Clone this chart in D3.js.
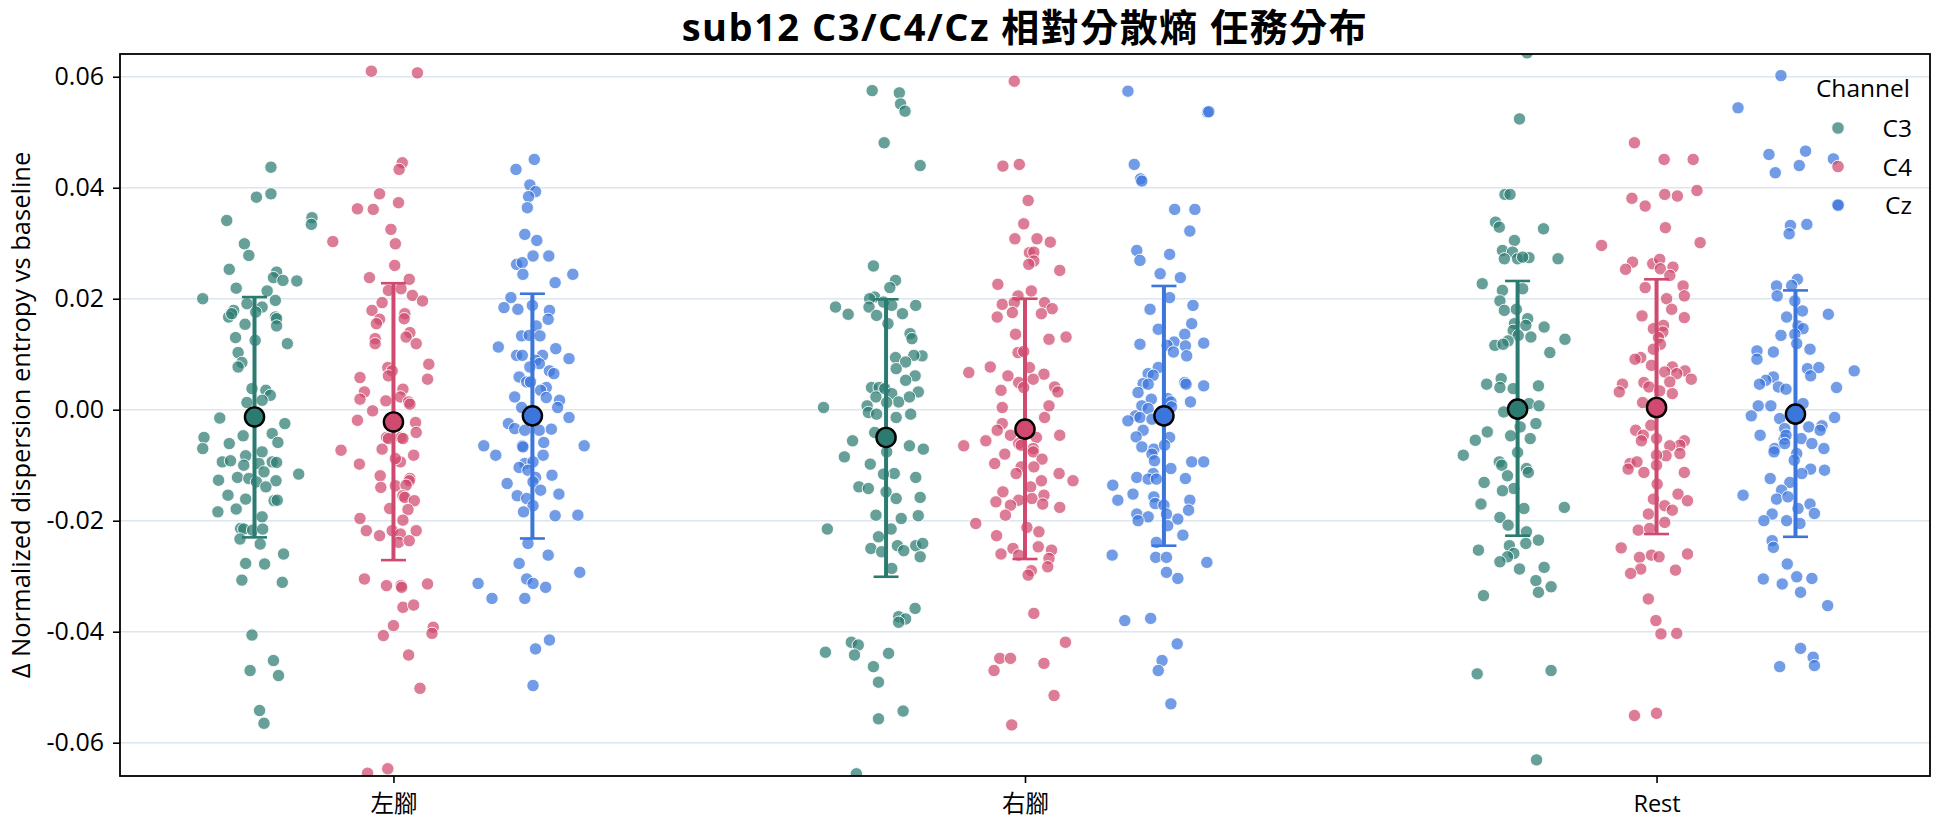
<!DOCTYPE html>
<html><head><meta charset="utf-8">
<script src="https://cdn.jsdelivr.net/npm/d3@7"></script>
<style>body{margin:0;background:#fff}svg{display:block}</style>
</head><body>
<svg id="chart" width="1944" height="827"></svg>
<script>
// ---------- data ----------
const categories = ["左腳", "右腳", "Rest"];
const channels = ["C3", "C4", "Cz"];
const yTicks = [-0.06, -0.04, -0.02, 0, 0.02, 0.04, 0.06];
const titleText = "sub12 C3/C4/Cz 相對分散熵 任務分布";
const yLabel = "Δ Normalized dispersion entropy vs baseline";

// mean and mean±SD per category (左腳, 右腳, Rest)
const meanC3 = [-0.0013, -0.0050, 0.0001];
const meanC4 = [-0.0022, -0.0035, 0.0004];
const meanCz = [-0.0011, -0.0011, -0.0008];
const upperC3 = [0.0203, 0.0199, 0.0232];
const upperC4 = [0.0228, 0.0200, 0.0235];
const upperCz = [0.0209, 0.0223, 0.0215];
const lowerC3 = [-0.0230, -0.0301, -0.0227];
const lowerC4 = [-0.0271, -0.0269, -0.0224];
const lowerCz = [-0.0232, -0.0245, -0.0229];

// trials: [value, strip jitter (category units)]
const leftC3 = [[0.0437,0.026],[0.0383,0.003],[0.0389,0.026],[0.0341,-0.044],[0.0346,0.091],[0.0334,0.090],[0.0299,-0.016],[0.0278,-0.009],[0.0253,-0.040],[0.0248,0.035],[0.0238,0.030],[0.0233,0.045],[0.0232,0.067],[0.0219,-0.029],[0.0214,0.020],[0.0200,-0.082],[0.0191,-0.012],[0.0197,0.033],[0.0185,0.012],[0.0176,0.002],[0.0179,-0.033],[0.0167,-0.041],[0.0173,-0.036],[0.0167,0.033],[0.0164,0.035],[0.0154,-0.015],[0.0151,0.035],[0.0130,-0.030],[0.0125,0.001],[0.0119,0.052],[0.0103,-0.026],[0.0085,-0.020],[0.0077,-0.026],[0.0038,-0.004],[0.0035,0.018],[0.0026,0.025],[0.0017,0.012],[0.0013,-0.012],[-0.0015,-0.055],[-0.0025,0.048],[-0.0050,-0.080],[-0.0047,-0.018],[-0.0043,0.028],[-0.0061,-0.040],[-0.0059,0.037],[-0.0070,-0.082],[-0.0076,0.012],[-0.0083,-0.014],[-0.0094,-0.051],[-0.0092,-0.038],[-0.0100,-0.017],[-0.0094,0.028],[-0.0095,0.035],[-0.0097,0.007],[-0.0112,0.015],[-0.0122,-0.027],[-0.0127,-0.057],[-0.0124,-0.009],[-0.0130,0.003],[-0.0128,0.034],[-0.0116,0.070],[-0.0139,0.018],[-0.0154,-0.042],[-0.0161,-0.014],[-0.0164,0.031],[-0.0163,0.036],[-0.0179,-0.029],[-0.0184,-0.058],[-0.0193,0.012],[-0.0214,-0.022],[-0.0215,-0.017],[-0.0217,-0.003],[-0.0215,0.013],[-0.0233,-0.023],[-0.0242,0.009],[-0.0260,0.046],[-0.0277,-0.014],[-0.0278,0.016],[-0.0307,-0.020],[-0.0311,0.044],[-0.0406,-0.004],[-0.0452,0.030],[-0.0470,-0.007],[-0.0479,0.038],[-0.0542,0.008],[-0.0565,0.015]];
const leftC4 = [[0.0610,-0.035],[0.0607,0.038],[0.0445,0.014],[0.0433,0.009],[0.0389,-0.022],[0.0362,-0.057],[0.0361,-0.032],[0.0373,0.008],[0.0325,-0.004],[0.0299,0.003],[0.0303,-0.096],[0.0260,0.002],[0.0238,-0.038],[0.0235,0.025],[0.0215,-0.008],[0.0218,0.012],[0.0206,0.030],[0.0196,0.046],[0.0193,-0.018],[0.0179,-0.034],[0.0163,-0.022],[0.0155,-0.027],[0.0173,0.018],[0.0164,0.017],[0.0139,0.026],[0.0131,0.020],[0.0128,-0.029],[0.0119,-0.029],[0.0119,0.036],[0.0082,0.056],[0.0055,0.054],[0.0076,-0.009],[0.0070,-0.002],[0.0061,-0.008],[0.0058,-0.053],[0.0032,-0.046],[0.0019,-0.053],[0.0037,0.015],[0.0023,0.011],[0.0014,0.024],[0.0010,0.026],[0.0016,-0.012],[-0.0002,-0.033],[-0.0019,-0.057],[-0.0023,0.035],[-0.0041,0.036],[-0.0050,-0.011],[-0.0050,0.012],[-0.0073,-0.083],[-0.0071,-0.018],[-0.0052,-0.008],[-0.0052,0.015],[-0.0082,0.032],[-0.0098,-0.054],[-0.0094,0.011],[-0.0088,0.003],[-0.0119,-0.021],[-0.0124,0.026],[-0.0128,0.025],[-0.0140,-0.020],[-0.0137,0.003],[-0.0136,0.020],[-0.0155,0.015],[-0.0158,0.018],[-0.0164,0.033],[-0.0178,-0.006],[-0.0180,0.023],[-0.0196,-0.053],[-0.0199,0.015],[-0.0218,-0.043],[-0.0227,-0.022],[-0.0218,-0.002],[-0.0224,0.011],[-0.0218,0.036],[-0.0239,0.008],[-0.0236,0.025],[-0.0305,-0.046],[-0.0317,-0.011],[-0.0317,0.012],[-0.0320,0.013],[-0.0314,0.054],[-0.0356,0.015],[-0.0352,0.032],[-0.0389,0.000],[-0.0407,-0.016],[-0.0392,0.063],[-0.0403,0.061],[-0.0442,0.024],[-0.0502,0.042],[-0.0655,-0.041],[-0.0647,-0.009]];
const leftCz = [[0.0451,0.003],[0.0433,-0.026],[0.0405,-0.004],[0.0393,0.005],[0.0384,-0.006],[0.0364,-0.008],[0.0316,-0.012],[0.0305,0.007],[0.0277,0.001],[0.0277,0.026],[0.0262,-0.025],[0.0265,-0.016],[0.0244,-0.015],[0.0244,0.064],[0.0229,0.036],[0.0202,-0.034],[0.0184,-0.045],[0.0181,-0.023],[0.0188,0.000],[0.0179,0.027],[0.0163,0.025],[0.0151,0.006],[0.0133,-0.017],[0.0134,-0.005],[0.0133,0.012],[0.0113,-0.054],[0.0110,0.037],[0.0098,-0.025],[0.0098,-0.016],[0.0098,0.016],[0.0092,0.058],[0.0089,0.005],[0.0083,0.011],[0.0077,-0.004],[0.0070,0.027],[0.0065,0.034],[0.0059,-0.021],[0.0050,-0.009],[0.0050,-0.003],[0.0040,0.022],[0.0035,0.013],[0.0023,-0.028],[0.0022,0.022],[0.0017,0.043],[0.0004,0.040],[0.0004,-0.017],[-0.0014,0.058],[-0.0025,-0.038],[-0.0034,-0.028],[-0.0037,-0.012],[-0.0037,0.011],[-0.0035,0.030],[-0.0059,0.018],[-0.0065,-0.077],[-0.0065,-0.016],[-0.0065,0.082],[-0.0082,-0.058],[-0.0067,-0.015],[-0.0082,0.017],[-0.0097,-0.012],[-0.0094,0.001],[-0.0104,-0.021],[-0.0109,-0.007],[-0.0118,0.031],[-0.0122,0.005],[-0.0130,0.001],[-0.0133,-0.040],[-0.0145,0.013],[-0.0152,0.042],[-0.0155,-0.024],[-0.0160,-0.009],[-0.0173,0.001],[-0.0184,-0.014],[-0.0191,0.036],[-0.0190,0.072],[-0.0241,-0.007],[-0.0262,0.025],[-0.0277,-0.021],[-0.0293,0.075],[-0.0313,-0.086],[-0.0305,-0.009],[-0.0313,0.001],[-0.0320,0.021],[-0.0340,-0.064],[-0.0340,-0.012],[-0.0415,0.027],[-0.0431,0.005],[-0.0497,0.001]];
const rightC3 = [[0.0575,-0.022],[0.0571,0.021],[0.0551,0.023],[0.0538,0.030],[0.0481,-0.003],[0.0440,0.054],[0.0259,-0.020],[0.0233,0.015],[0.0220,0.006],[0.0203,-0.018],[0.0200,-0.026],[0.0194,-0.004],[0.0188,0.009],[0.0185,-0.027],[0.0185,-0.080],[0.0172,-0.060],[0.0170,-0.015],[0.0173,0.026],[0.0188,0.047],[0.0155,0.003],[0.0137,0.038],[0.0128,0.041],[0.0097,0.057],[0.0098,0.044],[0.0094,0.015],[0.0086,0.031],[0.0074,0.016],[0.0061,0.046],[0.0053,0.031],[0.0040,-0.023],[0.0040,-0.011],[0.0038,-0.002],[0.0032,0.051],[0.0023,-0.016],[0.0029,0.009],[0.0014,0.020],[0.0023,0.037],[0.0004,-0.099],[0.0007,-0.030],[0.0013,0.001],[-0.0005,-0.028],[-0.0008,-0.015],[-0.0008,0.039],[-0.0014,0.016],[-0.0041,-0.018],[-0.0056,-0.053],[-0.0065,0.037],[-0.0071,0.059],[-0.0085,-0.066],[-0.0076,0.001],[-0.0098,-0.025],[-0.0115,0.013],[-0.0116,-0.004],[-0.0122,0.047],[-0.0139,-0.043],[-0.0142,-0.028],[-0.0148,0.000],[-0.0160,0.016],[-0.0158,0.054],[-0.0190,-0.016],[-0.0196,0.024],[-0.0191,0.051],[-0.0215,-0.093],[-0.0215,0.008],[-0.0229,-0.012],[-0.0250,-0.024],[-0.0245,0.018],[-0.0254,0.028],[-0.0256,-0.007],[-0.0245,0.047],[-0.0241,0.058],[-0.0265,0.054],[-0.0286,0.009],[-0.0358,0.046],[-0.0373,0.020],[-0.0377,0.031],[-0.0383,0.020],[-0.0419,-0.055],[-0.0424,-0.044],[-0.0437,-0.096],[-0.0442,-0.050],[-0.0439,0.004],[-0.0463,-0.020],[-0.0491,-0.012],[-0.0543,0.027],[-0.0557,-0.012],[-0.0656,-0.047]];
const rightC4 = [[0.0592,-0.017],[0.0439,-0.035],[0.0442,-0.009],[0.0377,0.005],[0.0335,-0.002],[0.0308,-0.016],[0.0308,0.019],[0.0302,0.040],[0.0283,0.007],[0.0284,0.014],[0.0268,0.014],[0.0262,0.006],[0.0251,0.055],[0.0226,-0.043],[0.0214,0.010],[0.0205,-0.011],[0.0190,-0.036],[0.0193,-0.017],[0.0193,0.031],[0.0182,0.043],[0.0175,-0.020],[0.0173,0.026],[0.0167,-0.044],[0.0136,-0.015],[0.0127,0.038],[0.0131,0.065],[0.0103,-0.011],[0.0105,-0.002],[0.0077,-0.055],[0.0067,-0.089],[0.0076,0.007],[0.0061,-0.027],[0.0064,0.030],[0.0055,0.013],[0.0049,-0.010],[0.0040,-0.002],[0.0041,0.047],[0.0032,0.052],[0.0035,-0.038],[0.0004,-0.036],[0.0007,0.038],[-0.0014,0.031],[-0.0025,-0.036],[-0.0037,-0.044],[-0.0046,-0.023],[-0.0046,0.055],[-0.0050,0.018],[-0.0056,-0.062],[-0.0065,-0.097],[-0.0061,-0.010],[-0.0070,0.013],[-0.0064,-0.006],[-0.0080,-0.032],[-0.0076,0.013],[-0.0089,0.027],[-0.0097,-0.048],[-0.0103,-0.006],[-0.0103,0.014],[-0.0115,-0.014],[-0.0115,0.054],[-0.0128,0.076],[-0.0128,0.026],[-0.0139,0.009],[-0.0148,-0.035],[-0.0154,0.030],[-0.0160,0.011],[-0.0163,-0.010],[-0.0166,-0.046],[-0.0172,-0.023],[-0.0170,0.028],[-0.0176,0.055],[-0.0190,-0.031],[-0.0205,-0.078],[-0.0212,0.003],[-0.0220,0.022],[-0.0227,-0.045],[-0.0250,-0.019],[-0.0247,0.021],[-0.0253,0.042],[-0.0260,-0.038],[-0.0262,-0.010],[-0.0268,0.038],[-0.0283,0.036],[-0.0290,0.010],[-0.0298,0.005],[-0.0367,0.014],[-0.0419,0.064],[-0.0448,-0.040],[-0.0448,-0.023],[-0.0457,0.030],[-0.0470,-0.049],[-0.0515,0.046],[-0.0568,-0.021]];
const rightCz = [[0.0574,-0.057],[0.0536,0.069],[0.0537,0.071],[0.0442,-0.047],[0.0416,-0.037],[0.0412,-0.035],[0.0361,0.017],[0.0361,0.049],[0.0322,0.041],[0.0287,-0.043],[0.0269,-0.038],[0.0280,0.009],[0.0245,-0.006],[0.0238,0.026],[0.0202,0.009],[0.0181,-0.022],[0.0188,0.046],[0.0155,0.044],[0.0145,-0.009],[0.0136,0.033],[0.0118,-0.038],[0.0120,0.063],[0.0122,0.016],[0.0115,0.034],[0.0116,0.005],[0.0104,0.015],[0.0097,0.036],[0.0076,-0.009],[0.0065,-0.025],[0.0062,-0.017],[0.0047,-0.033],[0.0046,-0.025],[0.0049,0.033],[0.0046,0.035],[0.0043,0.063],[0.0031,-0.041],[0.0019,-0.020],[0.0020,0.006],[0.0014,0.011],[0.0014,0.042],[0.0007,-0.035],[0.0002,-0.025],[0.0005,0.012],[-0.0011,-0.045],[-0.0020,-0.057],[-0.0014,-0.038],[-0.0017,-0.019],[-0.0037,-0.033],[-0.0049,-0.044],[-0.0050,0.009],[-0.0067,-0.035],[-0.0071,-0.016],[-0.0064,0.001],[-0.0080,-0.019],[-0.0092,-0.015],[-0.0094,0.044],[-0.0094,0.063],[-0.0106,0.011],[-0.0115,-0.017],[-0.0122,-0.043],[-0.0125,-0.025],[-0.0125,-0.012],[-0.0124,0.034],[-0.0136,-0.081],[-0.0152,-0.049],[-0.0157,-0.016],[-0.0163,-0.073],[-0.0163,0.041],[-0.0169,-0.014],[-0.0172,0.000],[-0.0181,0.039],[-0.0188,-0.043],[-0.0193,-0.025],[-0.0188,0.004],[-0.0197,0.022],[-0.0200,-0.041],[-0.0209,0.006],[-0.0226,0.030],[-0.0239,-0.012],[-0.0262,-0.082],[-0.0266,-0.013],[-0.0266,0.004],[-0.0275,0.068],[-0.0293,0.004],[-0.0304,0.022],[-0.0380,-0.062],[-0.0376,-0.021],[-0.0422,0.021],[-0.0452,-0.003],[-0.0470,-0.009],[-0.0530,0.011]];
const restC3 = [[0.0643,0.015],[0.0524,0.003],[0.0388,-0.020],[0.0388,-0.012],[0.0338,-0.035],[0.0329,-0.029],[0.0326,0.041],[0.0305,-0.005],[0.0287,-0.024],[0.0284,-0.008],[0.0272,-0.021],[0.0272,0.000],[0.0274,0.018],[0.0275,0.008],[0.0272,0.064],[0.0227,-0.056],[0.0215,-0.024],[0.0218,0.008],[0.0196,-0.028],[0.0179,-0.021],[0.0181,-0.002],[0.0164,0.016],[0.0155,-0.005],[0.0152,0.013],[0.0149,0.042],[0.0143,-0.007],[0.0134,0.001],[0.0131,0.021],[0.0124,-0.015],[0.0127,0.075],[0.0116,-0.036],[0.0118,-0.023],[0.0103,0.051],[0.0056,-0.026],[0.0046,-0.049],[0.0040,-0.028],[0.0038,-0.007],[0.0043,0.033],[0.0011,0.018],[0.0007,0.034],[-0.0004,-0.022],[-0.0025,0.029],[-0.0031,0.004],[-0.0040,-0.048],[-0.0055,-0.067],[-0.0047,-0.011],[-0.0052,0.020],[-0.0082,-0.086],[-0.0077,0.000],[-0.0094,-0.029],[-0.0100,-0.025],[-0.0106,0.014],[-0.0113,0.017],[-0.0119,-0.016],[-0.0131,-0.053],[-0.0142,-0.006],[-0.0146,-0.024],[-0.0170,-0.058],[-0.0178,0.010],[-0.0176,0.074],[-0.0194,-0.028],[-0.0208,-0.015],[-0.0220,0.014],[-0.0235,0.033],[-0.0245,-0.013],[-0.0241,0.013],[-0.0253,-0.062],[-0.0259,-0.006],[-0.0265,-0.016],[-0.0274,-0.028],[-0.0287,0.003],[-0.0284,0.042],[-0.0308,0.029],[-0.0319,0.053],[-0.0329,0.033],[-0.0335,-0.054],[-0.0476,-0.064],[-0.0470,0.053],[-0.0631,0.030]];
const restC4 = [[0.0481,-0.035],[0.0451,0.012],[0.0451,0.058],[0.0395,0.064],[0.0388,0.013],[0.0385,0.033],[0.0381,-0.039],[0.0367,-0.018],[0.0328,0.014],[0.0301,0.069],[0.0296,-0.087],[0.0266,-0.038],[0.0253,-0.049],[0.0263,-0.006],[0.0271,0.005],[0.0254,0.006],[0.0257,0.026],[0.0242,0.021],[0.0220,-0.018],[0.0223,0.042],[0.0205,0.044],[0.0200,0.016],[0.0181,0.024],[0.0169,-0.023],[0.0166,0.044],[0.0152,0.011],[0.0146,-0.005],[0.0140,0.010],[0.0130,0.003],[0.0118,0.006],[0.0109,-0.005],[0.0094,-0.025],[0.0091,-0.034],[0.0080,-0.008],[0.0077,0.025],[0.0070,0.045],[0.0068,0.013],[0.0065,0.032],[0.0055,0.055],[0.0050,0.021],[0.0049,-0.020],[0.0046,-0.054],[0.0041,-0.012],[0.0032,-0.059],[0.0034,0.005],[0.0029,0.025],[0.0013,-0.022],[-0.0028,-0.009],[-0.0037,-0.033],[-0.0046,-0.021],[-0.0052,0.000],[-0.0056,0.044],[-0.0064,0.037],[-0.0065,0.021],[-0.0056,-0.024],[-0.0079,0.037],[-0.0083,0.015],[-0.0082,0.000],[-0.0097,-0.042],[-0.0094,-0.031],[-0.0107,-0.045],[-0.0100,0.000],[-0.0113,-0.020],[-0.0113,0.044],[-0.0134,0.001],[-0.0152,0.034],[-0.0164,0.049],[-0.0161,-0.005],[-0.0173,0.013],[-0.0181,0.025],[-0.0188,-0.013],[-0.0203,0.013],[-0.0217,-0.029],[-0.0214,-0.011],[-0.0249,-0.056],[-0.0266,-0.027],[-0.0262,-0.008],[-0.0265,0.004],[-0.0260,0.049],[-0.0287,-0.025],[-0.0295,-0.041],[-0.0289,0.030],[-0.0341,-0.013],[-0.0380,-0.001],[-0.0404,0.007],[-0.0403,0.032],[-0.0551,-0.035],[-0.0547,0.000]];
const restCz = [[0.0602,-0.023],[0.0544,-0.091],[0.0460,-0.042],[0.0466,0.016],[0.0440,0.006],[0.0427,-0.032],[0.0452,0.060],[0.0368,0.068],[0.0332,-0.008],[0.0334,0.018],[0.0317,-0.010],[0.0235,0.003],[0.0223,-0.030],[0.0224,-0.006],[0.0205,-0.029],[0.0196,-0.001],[0.0178,0.011],[0.0172,0.052],[0.0167,-0.014],[0.0151,0.004],[0.0146,0.012],[0.0134,-0.023],[0.0136,-0.001],[0.0119,0.002],[0.0106,-0.061],[0.0104,-0.035],[0.0109,0.023],[0.0091,-0.061],[0.0074,0.019],[0.0076,0.037],[0.0061,0.024],[0.0070,0.093],[0.0059,-0.035],[0.0053,-0.047],[0.0046,-0.057],[0.0041,-0.027],[0.0037,-0.015],[0.0040,0.065],[0.0011,0.012],[0.0007,-0.059],[0.0007,-0.039],[-0.0011,-0.070],[-0.0016,-0.025],[-0.0014,0.062],[-0.0031,0.021],[-0.0029,0.042],[-0.0037,0.039],[-0.0034,-0.017],[-0.0046,-0.056],[-0.0053,-0.018],[-0.0052,0.009],[-0.0061,0.026],[-0.0070,-0.033],[-0.0070,0.045],[-0.0046,-0.015],[-0.0061,-0.017],[-0.0076,-0.034],[-0.0079,0.002],[-0.0091,-0.002],[-0.0107,0.024],[-0.0109,0.046],[-0.0115,0.010],[-0.0124,-0.040],[-0.0131,-0.009],[-0.0154,-0.083],[-0.0145,-0.022],[-0.0161,-0.030],[-0.0157,-0.012],[-0.0170,0.023],[-0.0178,0.004],[-0.0187,0.030],[-0.0188,-0.037],[-0.0200,-0.050],[-0.0200,-0.014],[-0.0205,0.007],[-0.0236,-0.037],[-0.0248,-0.035],[-0.0278,-0.013],[-0.0305,-0.051],[-0.0314,-0.021],[-0.0301,0.002],[-0.0304,0.026],[-0.0329,0.008],[-0.0353,0.051],[-0.0430,0.008],[-0.0446,0.028],[-0.0463,-0.025],[-0.0461,0.030]];

const colors = {C3: "#2b7b71", C4: "#cf4a6e", Cz: "#3b76dc"};

// ---------- assemble ----------
const trials = {
  "左腳": {C3: leftC3, C4: leftC4, Cz: leftCz},
  "右腳": {C3: rightC3, C4: rightC4, Cz: rightCz},
  "Rest": {C3: restC3, C4: restC4, Cz: restCz}
};
const stats = {
  C3: {mean: meanC3, lo: lowerC3, hi: upperC3},
  C4: {mean: meanC4, lo: lowerC4, hi: upperC4},
  Cz: {mean: meanCz, lo: lowerCz, hi: upperCz}
};

const svg = d3.select("#chart");
const P = {l: 120, r: 1930, t: 54, b: 776};
const FONT = "'Open Sans','Noto Sans CJK TC',sans-serif";

const catPos = d3.scalePoint().domain(categories).range([0, 2]);
const x = d3.scaleLinear().domain([-0.433, 2.433]).range([P.l, P.r]);
const dodge = d3.scalePoint().domain(channels).range([-0.22, 0.22]);
const y = d3.scaleLinear().domain([-0.0660, 0.0641]).range([P.b, P.t]);

svg.append("rect").attr("width", 1944).attr("height", 827).attr("fill", "#fff");

svg.append("defs").append("clipPath").attr("id", "plotclip")
  .append("rect").attr("x", P.l).attr("y", P.t).attr("width", P.r - P.l).attr("height", P.b - P.t);

// grid
svg.append("g").selectAll("line").data(yTicks).join("line")
  .attr("x1", P.l).attr("x2", P.r)
  .attr("y1", d => y(d)).attr("y2", d => y(d))
  .attr("stroke", "#dde5ee").attr("stroke-width", 1.6);

// points
const pts = [];
categories.forEach(cat => channels.forEach(ch => {
  trials[cat][ch].forEach(([v, j]) => pts.push({cat, ch, v, j}));
}));
svg.append("g").attr("clip-path", "url(#plotclip)")
  .selectAll("circle").data(pts).join("circle")
  .attr("cx", d => x(catPos(d.cat) + dodge(d.ch) + d.j))
  .attr("cy", d => y(d.v))
  .attr("r", 6.2)
  .attr("fill", d => colors[d.ch]).attr("fill-opacity", 0.72)
  .attr("stroke", "#fff").attr("stroke-width", 0.9);

// error bars and means
const summ = [];
categories.forEach((cat, i) => channels.forEach(ch => {
  summ.push({cat, ch, m: stats[ch].mean[i], lo: stats[ch].lo[i], hi: stats[ch].hi[i]});
}));
const eg = svg.append("g");
summ.forEach(d => {
  const cx = x(catPos(d.cat) + dodge(d.ch));
  const g = eg.append("g");
  g.append("line").attr("x1", cx).attr("x2", cx).attr("y1", y(d.lo)).attr("y2", y(d.hi))
    .attr("stroke", colors[d.ch]).attr("stroke-width", 4);
  [d.lo, d.hi].forEach(v => g.append("line")
    .attr("x1", cx - 12.5).attr("x2", cx + 12.5).attr("y1", y(v)).attr("y2", y(v))
    .attr("stroke", colors[d.ch]).attr("stroke-width", 2.6));
  g.append("circle").attr("cx", cx).attr("cy", y(d.m)).attr("r", 9.6)
    .attr("fill", colors[d.ch]).attr("stroke", "#000").attr("stroke-width", 2.4);
});

// frame
svg.append("rect").attr("x", P.l).attr("y", P.t).attr("width", P.r - P.l).attr("height", P.b - P.t)
  .attr("fill", "none").attr("stroke", "#000").attr("stroke-width", 1.8);

// axes
const yAxis = svg.append("g").attr("transform", `translate(${P.l},0)`)
  .call(d3.axisLeft(y).tickValues(yTicks).tickSize(7).tickPadding(9).tickFormat(d => d.toFixed(2)));
const xAxis = svg.append("g").attr("transform", `translate(0,${P.b})`)
  .call(d3.axisBottom(x).tickValues(categories.map(c => catPos(c))).tickSize(7).tickPadding(12)
    .tickFormat(i => categories[Math.round(i)]));
[yAxis, xAxis].forEach(a => {
  a.select(".domain").remove();
  a.selectAll(".tick line").attr("stroke", "#000").attr("stroke-width", 1.6);
  a.selectAll(".tick text").attr("fill", "#000").style("font-family", FONT);
});
yAxis.selectAll(".tick text").style("font-size", "25px");
xAxis.selectAll(".tick text").style("font-size", "23.5px");

// title
svg.append("text").attr("x", (P.l + P.r) / 2).attr("y", 41).attr("text-anchor", "middle")
  .style("font-family", FONT).style("font-size", "38px").style("font-weight", "700")
  .style("letter-spacing", "1.5px")
  .text(titleText);

// y label
svg.append("text").attr("transform", `translate(30,${(P.t + P.b) / 2}) rotate(-90)`)
  .attr("text-anchor", "middle").style("font-family", FONT).style("font-size", "25.5px")
  .text(yLabel);

// legend
const lg = svg.append("g");
lg.append("text").attr("x", 1910).attr("y", 97).attr("text-anchor", "end")
  .style("font-family", FONT).style("font-size", "24.5px").text("Channel");
channels.forEach((ch, i) => {
  const yy = 128 + i * 38.5;
  lg.append("circle").attr("cx", 1838).attr("cy", yy).attr("r", 6.3)
    .attr("fill", colors[ch]).attr("fill-opacity", 0.72).attr("stroke", "#fff").attr("stroke-width", 0.9);
  lg.append("text").attr("x", 1912).attr("y", yy + 9).attr("text-anchor", "end")
    .style("font-family", FONT).style("font-size", "24.5px").text(ch);
});
</script>
</body></html>
